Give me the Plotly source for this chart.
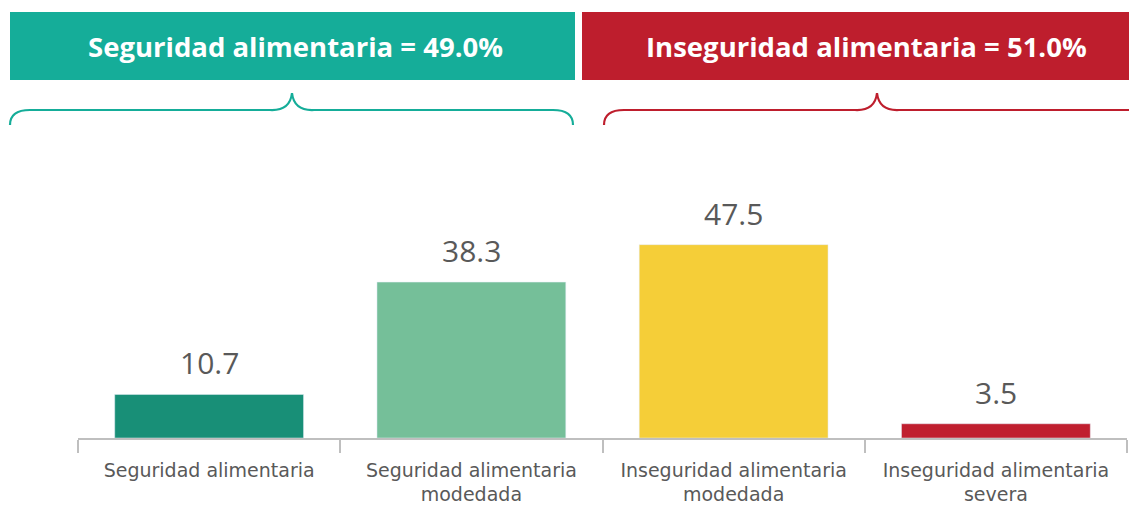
import plotly.graph_objects as go

# ---- data ----
categories = [
    "Seguridad alimentaria",
    "Seguridad alimentaria<br>modedada",
    "Inseguridad alimentaria<br>modedada",
    "Inseguridad alimentaria<br>severa",
]
values = [10.7, 38.3, 47.5, 3.5]
bar_colors = ["#188F77", "#75BF99", "#F5CE38", "#C01F2F"]
group_labels = ["Seguridad alimentaria = 49.0%", "Inseguridad alimentaria = 51.0%"]
group_colors = ["#15AD99", "#BE1E2D"]

OFF = 8  # page body margin
PAGE_W, PAGE_H = 1137, 506
W, H = PAGE_W - OFF, PAGE_H - OFF
PL, PR, PT, PB = 78, 1127, 140, 438  # plot area in page pixels
ML, MT = PL - OFF, PT - OFF
MR = W - (PR - OFF)
MB = H - (PB - OFF)
PW, PH = W - ML - MR, H - MT - MB


def px(x):
    return (x - PL) / PW


def py(y):
    return (PB - y) / PH


fig = go.Figure()
fig.add_trace(go.Bar(
    x=categories, y=values, marker_color=bar_colors, width=0.72,
    hoverinfo="skip",
))

annotations = []
for c, v in zip(categories, values):
    annotations.append(dict(
        x=c, y=v, xref="x", yref="y", text=f"{v:.1f}", showarrow=False,
        yanchor="bottom", yshift=9,
        font=dict(family="Open Sans", size=30, color="#595959"),
    ))

shapes = []
boxes = [(10, 575), (582, 1140)]
text_centers = [295, 866]
for (x0, x1), xc, lab, col in zip(boxes, text_centers, group_labels, group_colors):
    shapes.append(dict(type="rect", xref="paper", yref="paper",
                       x0=px(x0), x1=px(x1), y0=py(80), y1=py(12),
                       fillcolor=col, line=dict(width=0), layer="above"))
    annotations.append(dict(x=px(xc), y=py(47), xref="paper", yref="paper",
                            text=f"<b>{lab}</b>", showarrow=False,
                            xanchor="center", yanchor="middle",
                            font=dict(family="Open Sans", size=27.5, color="white")))


def brace(x0, xm, x1, ytop=110, yend=125, ytip=93):
    pts = [
        ("M", [(x0, yend)]),
        ("Q", [(x0, ytop), (x0 + 20, ytop)]),
        ("L", [(xm - 22, ytop)]),
        ("Q", [(xm - 2, ytop + 1), (xm, ytip)]),
        ("Q", [(xm + 2, ytop + 1), (xm + 22, ytop)]),
        ("L", [(x1 - 20, ytop)]),
        ("Q", [(x1, ytop), (x1, yend)]),
    ]
    s = ""
    for cmd, ps in pts:
        s += cmd + " " + " ".join(f"{px(a):.5f},{py(b):.5f}" for a, b in ps) + " "
    return s.strip()


braces = [(10, 292, 573), (604, 877, 1150)]
for (a, m, b), col in zip(braces, group_colors):
    shapes.append(dict(type="path", xref="paper", yref="paper",
                       path=brace(a, m, b), line=dict(color=col, width=2.2)))

fig.update_layout(
    width=W, height=H,
    margin=dict(l=ML, r=MR, t=MT, b=MB, pad=0, autoexpand=False),
    paper_bgcolor="white", plot_bgcolor="white",
    showlegend=False,
    shapes=shapes, annotations=annotations,
    xaxis=dict(
        type="category", range=[-0.5, 3.5], automargin=False,
        showline=True, linecolor="#BFBFBF", linewidth=1.5,
        ticks="outside", tickson="boundaries", ticklen=13, tickcolor="#BFBFBF", tickwidth=1.5,
        ticklabelstandoff=14,
        tickfont=dict(family="DejaVu Sans", size=19, color="#595959"),
        showgrid=False, zeroline=False,
    ),
    yaxis=dict(range=[0, PH / 4.07], visible=False, showgrid=False, zeroline=False,
               automargin=False),
)

fig.write_html("out.html")
